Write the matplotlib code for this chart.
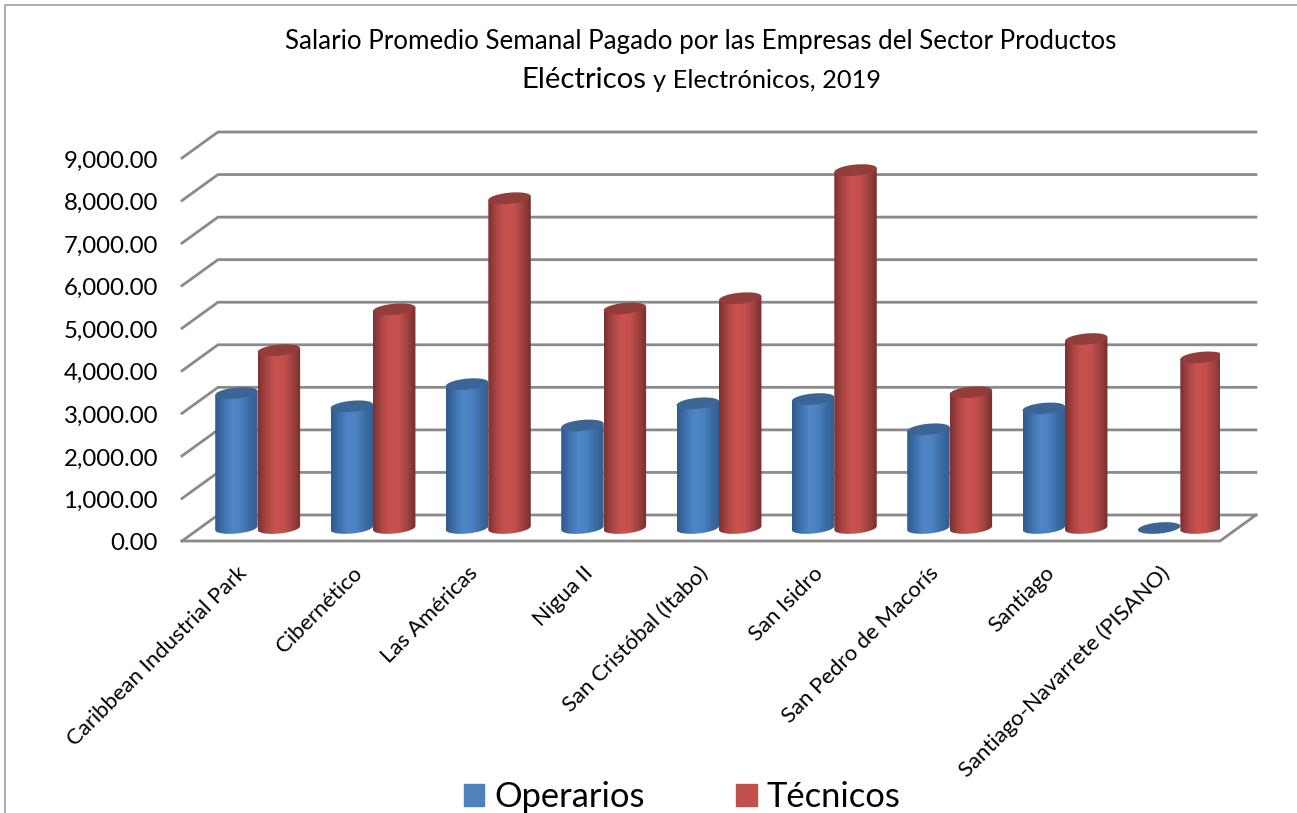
import numpy as np
import matplotlib
matplotlib.use("Agg")
import matplotlib.pyplot as plt
from matplotlib.colors import LinearSegmentedColormap
from matplotlib.lines import Line2D
from matplotlib.patches import Patch, PathPatch
from matplotlib.path import Path

plt.rcParams["font.family"] = ["Lato", "DejaVu Sans"]

zonas = ["Caribbean Industrial Park", "Cibernético", "Las Américas", "Nigua II",
         "San Cristóbal (Itabo)", "San Isidro", "San Pedro de Macorís", "Santiago",
         "Santiago-Navarrete (PISANO)"]
operarios = [3170, 2860, 3380, 2410, 2930, 3030, 2320, 2810, 0]
tecnicos = [4180, 5140, 7750, 5160, 5400, 8410, 3190, 4440, 4010]
yticks = [0, 1000, 2000, 3000, 4000, 5000, 6000, 7000, 8000, 9000]

W, H = 1297, 813
GRID = "#8a8a8a"
ancho = 0.368
dx, dy = 0.312, 611  # profundidad del piso 3d

cmapAzul = LinearSegmentedColormap.from_list("azul", ["#2f5a8c", "#3f72ad", "#4f86c6", "#4c82c2", "#3c6ca4", "#315f92"])
cmapRojo = LinearSegmentedColormap.from_list("rojo", ["#7c3130", "#ab4644", "#c9524f", "#c5504d", "#a24341", "#74302e"])

fig = plt.figure(figsize=(W / 100, H / 100), dpi=100)
ax = fig.add_axes([182 / W, 1 - 541 / H, (1220 - 182) / W, (541 - 158) / H])
ax.axis("off")


def cilindro(xc, valor, cmap, tapa, z):
    a = ancho / 2
    b, s = 130, 45
    base = dy / 2
    t = np.linspace(0, np.pi, 40)
    if valor > 0:
        # cuerpo: lado izquierdo, curva inferior, lado derecho
        xs = np.concatenate([[xc - a], xc - a * np.cos(t), [xc + a]])
        ys = np.concatenate([[base + valor - s], base - s * np.cos(t) - b * np.sin(t), [base + valor + s]])
        cuerpo = PathPatch(Path(np.column_stack([xs, ys])), fc="none", ec="none", zorder=z)
        ax.add_patch(cuerpo)
        grad = np.linspace(0, 1, 64).reshape(1, -1)
        im = ax.imshow(grad, cmap=cmap, aspect="auto", zorder=z,
                       extent=[xc - a, xc + a, base - b - s, base + valor + s])
        im.set_clip_path(cuerpo)
    t = np.linspace(0, 2 * np.pi, 60)
    ax.fill(xc + a * np.cos(t), base + valor + s * np.cos(t) + b * np.sin(t), color=tapa, lw=0, zorder=z + 0.1)


# paredes y lineas de la cuadricula
for v in yticks:
    ax.plot([0, dx, 9 + dx], [v, v + dy, v + dy], color=GRID, lw=2, clip_on=False, zorder=1, solid_joinstyle="miter")
ax.plot([0, 9, 9 + dx], [0, 0, dy], color=GRID, lw=2, clip_on=False, zorder=1, solid_joinstyle="miter")

for i in range(len(zonas)):
    xc = i + 0.5 + dx / 2
    cilindro(xc - ancho / 2, operarios[i], cmapAzul, "#3a6594", 2 + i)
    cilindro(xc + ancho / 2, tecnicos[i], cmapRojo, "#933d3b", 2.5 + i)

ax.set_xlim(0, 9)
ax.set_ylim(0, 9000)

for v in yticks:
    ax.annotate(f"{v:,.2f}", (0, v), xytext=(158 / W, -3), textcoords=("figure fraction", "offset pixels"),
                xycoords="data", ha="right", va="center", fontsize=17.3, color="black", annotation_clip=False)

for i, nombre in enumerate(zonas):
    ax.annotate(nombre, (i + 0.5, 0), xytext=(-3, -22), textcoords="offset pixels", rotation=45,
                rotation_mode="anchor", ha="right", va="top", fontsize=15.9, annotation_clip=False)

fig.text(701 / W, 1 - 41 / H, "Salario Promedio Semanal Pagado por las Empresas del Sector Productos",
         ha="center", va="center", fontsize=18.7)
fig.text(646 / W, 1 - 80 / H, "Eléctricos", ha="right", va="center", fontsize=21.2)
fig.text(653 / W, 1 - 80 / H, "y Electrónicos, 2019", ha="left", va="center", fontsize=18.3)

# borde del cuadro, solo arriba y a la izquierda
fig.add_artist(Line2D([5 / W, 5 / W, 1], [0, 1 - 5 / H, 1 - 5 / H], color="#a0a0a0", lw=1.2))

leg = fig.legend(handles=[Patch(color="#4f81bd", label="Operarios"), Patch(color="#c0504d", label="Técnicos")],
                 ncol=2, loc="center", bbox_to_anchor=(682 / W, 1 - 797 / H), frameon=False, fontsize=24.8,
                 handlelength=0.6, handleheight=0.6, columnspacing=2.65, handletextpad=0.29)

fig.savefig("out.png", dpi=100)
